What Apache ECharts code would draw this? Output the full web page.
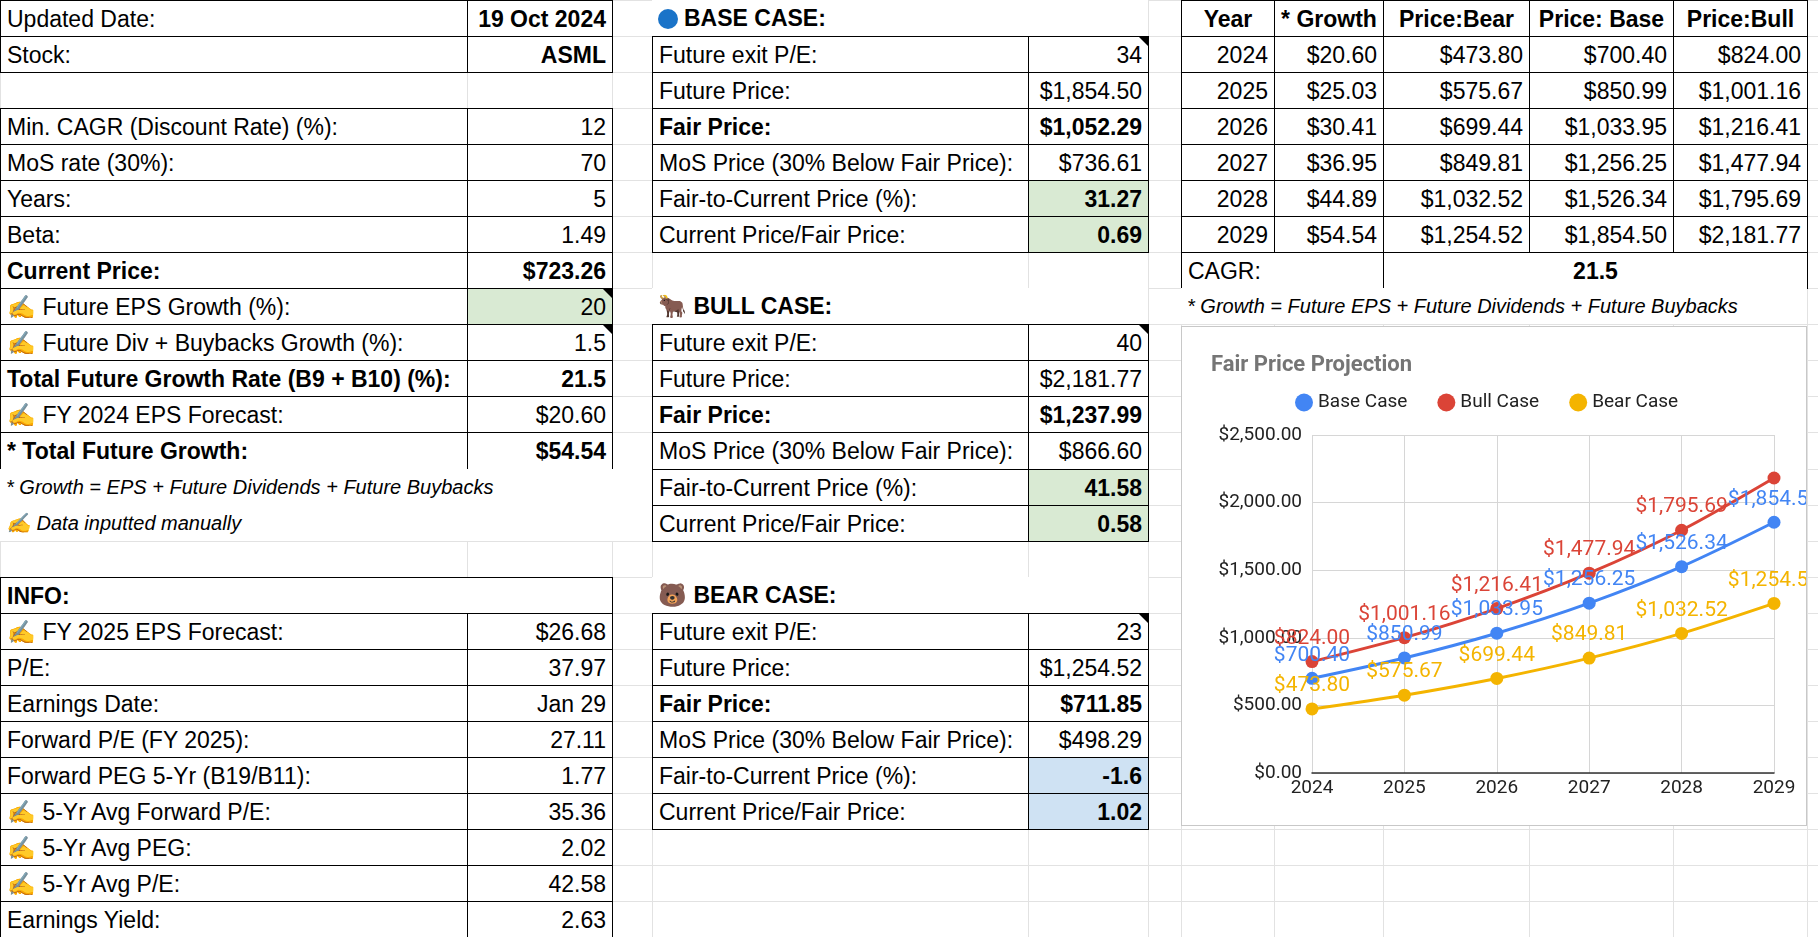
<!DOCTYPE html>
<html><head><meta charset="utf-8">
<script src="https://cdn.jsdelivr.net/npm/echarts@6/dist/echarts.min.js"></script>
<style>
html,body{margin:0;padding:0;background:#fff;width:1818px;height:937px;overflow:hidden;font-family:"Liberation Sans",Arial,sans-serif;}
#sheet{position:absolute;left:0;top:0;width:1818px;height:937px;}
.c{position:absolute;box-sizing:border-box;font-size:23px;line-height:36px;padding:0 6px;white-space:nowrap;overflow:visible;color:#000;}
.b{border:1.5px solid #000;}
.g{position:absolute;background:#e2e2e2;}
.note:after{content:"";position:absolute;right:0;top:0;border-top:9px solid #000;border-left:9px solid transparent;}
.dot{display:inline-block;width:20px;height:20px;border-radius:50%;background:#1a73c8;vertical-align:-3px;margin-right:6px;}
#chart{position:absolute;left:1181px;top:326px;width:626px;height:500px;background:#fff;border:1px solid #c8c8c8;box-sizing:border-box;}
</style></head><body>
<div id="sheet"></div>
<div id="chart"></div>
<script>
// ---- data ----
const years = ['2024','2025','2026','2027','2028','2029'];
const growth = [20.60,25.03,30.41,36.95,44.89,54.54];
const bearCase = [473.80,575.67,699.44,849.81,1032.52,1254.52];
const baseCase = [700.40,850.99,1033.95,1256.25,1526.34,1854.50];
const bullCase = [824.00,1001.16,1216.41,1477.94,1795.69,2181.77];
const yTicks = [0,500,1000,1500,2000,2500];
const leftLabels = ['Updated Date:','Stock:','','Min. CAGR (Discount Rate) (%):','MoS rate (30%):','Years:','Beta:','Current Price:','✍ Future EPS Growth (%):','✍ Future Div + Buybacks Growth (%):','Total Future Growth Rate (B9 + B10) (%):','✍ FY 2024 EPS Forecast:','* Total Future Growth:'];
const leftValues = ['19 Oct 2024','ASML','','12','70','5','1.49','$723.26','20','1.5','21.5','$20.60','$54.54'];
const infoLabels = ['✍ FY 2025 EPS Forecast:','P/E:','Earnings Date:','Forward P/E (FY 2025):','Forward PEG 5-Yr (B19/B11):','✍ 5-Yr Avg Forward P/E:','✍ 5-Yr Avg PEG:','✍ 5-Yr Avg P/E:','Earnings Yield:'];
const infoValues = ['$26.68','37.97','Jan 29','27.11','1.77','35.36','2.02','42.58','2.63'];
const caseLabels = ['Future exit P/E:','Future Price:','Fair Price:','MoS Price (30% Below Fair Price):','Fair-to-Current Price (%):','Current Price/Fair Price:'];
const baseValues = ['34','$1,854.50','$1,052.29','$736.61','31.27','0.69'];
const bullValues = ['40','$2,181.77','$1,237.99','$866.60','41.58','0.58'];
const bearValues = ['23','$1,254.52','$711.85','$498.29','-1.6','1.02'];
const tableHeader = ['Year','* Growth','Price:Bear','Price: Base','Price:Bull'];

// ---- sheet layout ----
const X=[0,467,612,652,1028,1148,1181,1274,1383,1529,1673,1807,1818];
const RH=36.04;
const sheet=document.getElementById('sheet');
for(let i=0;i<X.length;i++){const d=document.createElement('div');d.className='g';d.style.cssText=`left:${X[i]}px;top:0;width:1px;height:937px`;sheet.appendChild(d);}
for(let r=0;r<=26;r++){const d=document.createElement('div');d.className='g';d.style.cssText=`left:0;top:${Math.round(r*RH)}px;width:1818px;height:1px`;sheet.appendChild(d);}
function cell(row,c0,c1,html,o={}){
  const d=document.createElement('div');
  d.className='c'+(o.border?' b':'')+(o.note?' note':'');
  const t=Math.round((row-1)*RH), b=Math.round(row*RH);
  d.style.left=X[c0]+'px';d.style.top=t+'px';d.style.width=(X[c1]-X[c0]+(o.border?1:0))+'px';d.style.height=(b-t+(o.border?1:0))+'px';
  d.style.textAlign=o.align||'left';
  if(o.bold)d.style.fontWeight='bold';
  if(o.italic){d.style.fontStyle='italic';d.style.fontSize='20px';}
  d.style.background=o.bg||(o.border||html?'#fff':'transparent');
  d.innerHTML=html;sheet.appendChild(d);
}
const GREEN='#d9ead3',BLUE='#cfe2f3';
const boldRows=[7,10,12];
leftLabels.forEach((l,i)=>{
  if(i===2)return;
  const row=i+1, bold=boldRows.includes(i);
  cell(row,0,1,l,{border:true,bold});
  cell(row,1,2,leftValues[i],{border:true,bold:bold||i<2,align:'right',bg:i===8?GREEN:undefined,note:i===8||i===9});
});
cell(14,0,4,'* Growth = EPS + Future Dividends + Future Buybacks',{italic:true});
cell(15,0,4,'✍ Data inputted manually',{italic:true});
cell(17,0,2,'INFO:',{border:true,bold:true});
infoLabels.forEach((l,i)=>{cell(18+i,0,1,l,{border:true});cell(18+i,1,2,infoValues[i],{border:true,align:'right'});});
function caseBlock(r0,title,vals,bg){
  cell(r0,3,5,title,{bold:true});
  caseLabels.forEach((l,i)=>{
    const bold=i===2||i>=4;
    cell(r0+1+i,3,4,l,{border:true,bold:i===2});
    cell(r0+1+i,4,5,vals[i],{border:true,bold,align:'right',bg:i>=4?bg:undefined,note:i===0});
  });
}
caseBlock(1,'<span class="dot"></span>BASE CASE:',baseValues,GREEN);
caseBlock(9,'🐂 BULL CASE:',bullValues,GREEN);
caseBlock(17,'🐻 BEAR CASE:',bearValues,BLUE);
tableHeader.forEach((h,i)=>cell(1,6+i,7+i,h,{border:true,bold:true,align:'center'}));
const f2=v=>'$'+v.toLocaleString('en-US',{minimumFractionDigits:2,maximumFractionDigits:2});
years.forEach((y,i)=>{
  const row=2+i;
  cell(row,6,7,y,{border:true,align:'right'});
  cell(row,7,8,f2(growth[i]),{border:true,align:'right'});
  cell(row,8,9,f2(bearCase[i]),{border:true,align:'right'});
  cell(row,9,10,f2(baseCase[i]),{border:true,align:'right'});
  cell(row,10,11,f2(bullCase[i]),{border:true,align:'right'});
});
cell(8,6,8,'CAGR:',{border:true});
cell(8,8,11,'21.5',{border:true,bold:true,align:'center'});
cell(9,6,11,'* Growth = Future EPS + Future Dividends + Future Buybacks',{italic:true});

// ---- chart ----
const chart=echarts.init(document.getElementById('chart'));
const lbl=c=>({show:true,position:'top',color:c,fontSize:21,fontFamily:'Roboto',formatter:p=>f2(p.value),distance:6});
const mk=(name,data,c,hideLast)=>({name,type:'line',smooth:0.3,symbol:'circle',symbolSize:13,lineStyle:{width:3,color:c},itemStyle:{color:c},label:lbl(c),z:name==='Bear Case'?3:2,
  data:data.map((v,i)=>hideLast&&i===data.length-1?{value:v,label:{show:false}}:v)});
chart.setOption({
  animation:false,
  textStyle:{fontFamily:'Roboto'},
  title:{text:'Fair Price Projection',left:24,top:22,textStyle:{fontSize:22,fontWeight:'bold',color:'#757575',fontFamily:'Roboto'}},
  legend:{top:61,left:108,icon:'circle',itemWidth:18,itemHeight:18,itemGap:30,textStyle:{fontSize:19,color:'#222',fontFamily:'Roboto'},data:['Base Case','Bull Case','Bear Case']},
  grid:{left:130,right:32,top:108,bottom:52},
  xAxis:{type:'category',data:years,boundaryGap:false,axisTick:{show:false},axisLine:{lineStyle:{color:'#333',width:1.5}},splitLine:{show:true,lineStyle:{color:'#d6d6d6'}},axisLabel:{fontSize:19,color:'#222',margin:6,fontFamily:'Roboto'}},
  yAxis:{type:'value',min:yTicks[0],max:yTicks[yTicks.length-1],interval:500,axisLine:{show:false},axisTick:{show:false},splitLine:{lineStyle:{color:'#d6d6d6'}},axisLabel:{fontSize:19,color:'#222',margin:10,fontFamily:'Roboto',formatter:v=>f2(v)}},
  series:[mk('Base Case',baseCase,'#4285F4'),mk('Bull Case',bullCase,'#DB4437',true),mk('Bear Case',bearCase,'#F4B400')]
});
</script></body></html>
